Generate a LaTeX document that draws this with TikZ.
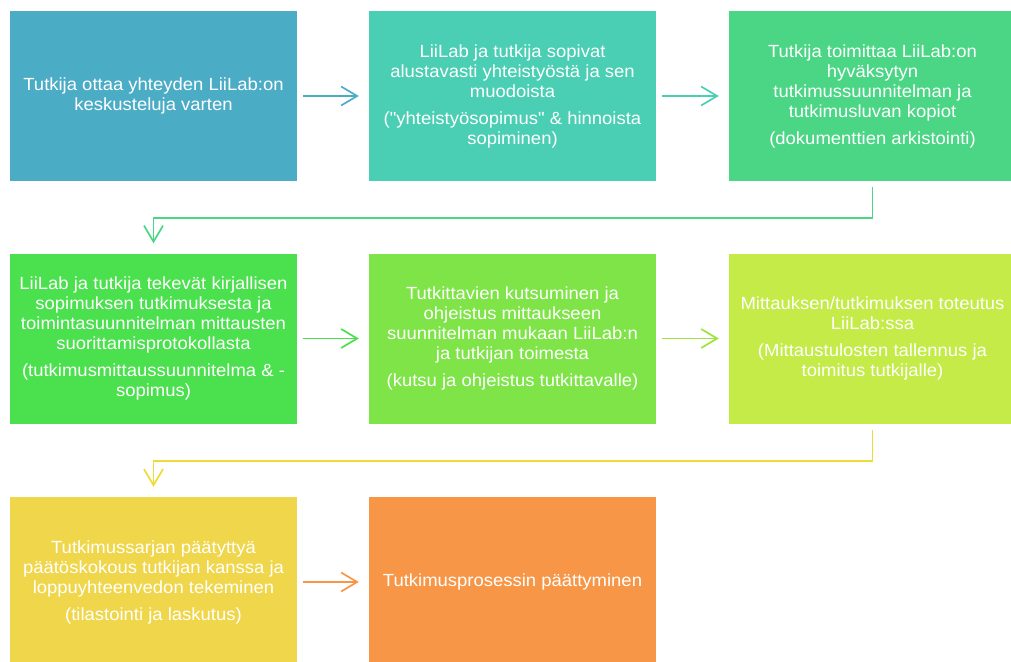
\documentclass[tikz,border=0pt]{standalone}
\usepackage{fontspec}
\setmainfont{Liberation Sans}[FakeStretch=1.05, Ligatures=TeXOff]
\usetikzlibrary{arrows.meta}

\definecolor{boxA}{RGB}{75,172,198}
\definecolor{boxB}{RGB}{74,206,180}
\definecolor{boxC}{RGB}{74,214,132}
\definecolor{boxD}{RGB}{75,224,77}
\definecolor{boxE}{RGB}{126,228,72}
\definecolor{boxF}{RGB}{196,235,71}
\definecolor{boxG}{RGB}{240,214,74}
\definecolor{boxH}{RGB}{247,150,70}
\definecolor{lineF}{RGB}{155,228,60}
\definecolor{lineG}{RGB}{238,220,50}

\tikzset{
  procbox/.style={fill=#1, minimum width=287pt, minimum height=170pt, inner sep=0pt,
    text=white, align=center, font=\fontsize{17.6}{20}\selectfont},
  flow/.style={draw=#1, line width=1.7pt, -{Straight Barb[length=16pt,width=19pt]},
    shorten <=6pt, shorten >=10pt}
}

\begin{document}
\begin{tikzpicture}[x=1pt,y=1pt]

		\useasboundingbox (0,0) rectangle (1011,-661);
		\clip (0,0) rectangle (1011,-661);

		\node[procbox=boxA] (contact) at (153.5,-96) {Tutkija ottaa yhteyden LiiLab:on\\keskusteluja varten};
		\node[procbox=boxB] (agree) at (512.5,-96) {LiiLab ja tutkija sopivat\\alustavasti yhteistyöstä ja sen\\muodoista\\[7pt]("yhteistyösopimus" \& hinnoista\\sopiminen)};
		\node[procbox=boxC] (docs) at (872.5,-96) {Tutkija toimittaa LiiLab:on\\hyväksytyn\\tutkimussuunnitelman ja\\tutkimusluvan kopiot\\[7pt](dokumenttien arkistointi)};

		\node[procbox=boxD] (contract) at (153.5,-338.5) {LiiLab ja tutkija tekevät kirjallisen\\sopimuksen tutkimuksesta ja\\toimintasuunnitelman mittausten\\suorittamisprotokollasta\\[7pt](tutkimusmittaussuunnitelma \& -\\sopimus)};
		\node[procbox=boxE] (invite) at (512.5,-338.5) {Tutkittavien kutsuminen ja\\ohjeistus mittaukseen\\suunnitelman mukaan LiiLab:n\\ja tutkijan toimesta\\[7pt](kutsu ja ohjeistus tutkittavalle)};
		\node[procbox=boxF] (measure) at (872.5,-338.5) {Mittauksen/tutkimuksen toteutus\\LiiLab:ssa\\[7pt](Mittaustulosten tallennus ja\\toimitus tutkijalle)};

		\node[procbox=boxG] (closing) at (153.5,-582) {Tutkimussarjan päätyttyä\\päätöskokous tutkijan kanssa ja\\loppuyhteenvedon tekeminen\\[7pt](tilastointi ja laskutus)};
		\node[procbox=boxH] (finish) at (512.5,-582) {Tutkimusprosessin päättyminen};

		\draw[flow=boxA] (contact) -- (agree);
		\draw[flow=boxB] (agree) -- (docs);
		\draw[flow=boxC] (docs.south) -- ++(0,-36.5) -| (contract.north);

		\draw[flow=boxD] (contract) -- (invite);
		\draw[flow=lineF] (invite) -- (measure);
		\draw[flow=lineG] (measure.south) -- ++(0,-37) -| (closing.north);

		\draw[flow=boxH] (closing) -- (finish);

\end{tikzpicture}
\end{document}
